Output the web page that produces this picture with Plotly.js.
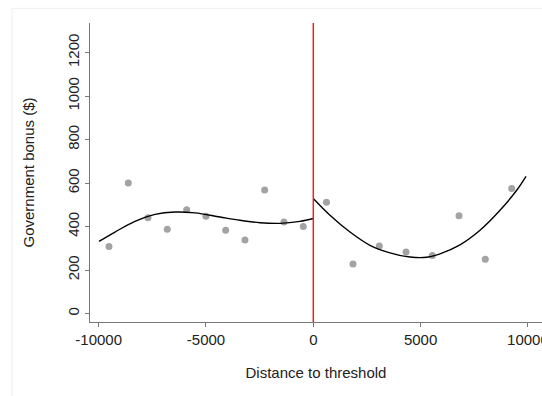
<!DOCTYPE html>
<html>
<head>
<meta charset="utf-8">
<script src="https://cdn.plot.ly/plotly-3.0.1.min.js"></script>
<style>html,body{margin:0;padding:0;background:#fff;}#chart{width:542px;height:396px;}</style>
</head>
<body>
<div id="chart"></div>
<script>
// Binned means
var binX = [-9520, -8621, -7703, -6803, -5900, -5000, -4082, -3183, -2266, -1366, -466,
            615, 1850, 3076, 4320, 5546, 6790, 8015, 9245];
var binY = [309, 600, 441, 388, 478, 447, 383, 338, 568, 421, 401,
            512, 228, 311, 283, 267, 450, 250, 575];

// Fitted curve, left of threshold
var fitLeftX = [-9986, -9240, -8310, -7376, -6444, -5512, -4348, -3416, -2484, -1552, -620, 0];
var fitLeftY = [332, 375, 424, 456, 467, 463, 444, 429, 418, 415, 424, 437];

// Fitted curve, right of threshold
var fitRightX = [0, 778, 1710, 2642, 3574, 4506, 5284, 5904, 6836, 7768, 8700, 9478, 9912];
var fitRightY = [529, 452, 375, 314, 279, 260, 259, 275, 316, 383, 475, 567, 631];

var xTicks = [-10000, -5000, 0, 5000, 10000];
var yTicks = [0, 200, 400, 600, 800, 1000, 1200];

var font = {family: 'Liberation Sans, Arial, sans-serif', size: 15, color: '#222'};

var traces = [
  {x: binX, y: binY, type: 'scatter', mode: 'markers',
   marker: {color: '#a3a3a3', size: 7}, hoverinfo: 'skip'},
  {x: fitLeftX, y: fitLeftY, type: 'scatter', mode: 'lines',
   line: {color: '#000', width: 1.4, shape: 'spline'}, hoverinfo: 'skip'},
  {x: fitRightX, y: fitRightY, type: 'scatter', mode: 'lines',
   line: {color: '#000', width: 1.4, shape: 'spline'}, hoverinfo: 'skip'}
];

var layout = {
  width: 542, height: 396,
  margin: {l: 90, r: 0, t: 23, b: 74},
  paper_bgcolor: '#fff', plot_bgcolor: '#fff',
  showlegend: false,
  font: font,
  xaxis: {
    range: [-10405, 10657],
    tickvals: xTicks, ticktext: xTicks.map(String),
    ticks: 'outside', ticklen: 4, tickcolor: '#777', tickwidth: 1,
    showline: true, linecolor: '#777', linewidth: 1,
    showgrid: false, zeroline: false,
    ticklabeloverflow: 'allow',
    tickfont: font,
    title: {text: 'Distance to threshold', font: font, standoff: 20}
  },
  yaxis: {
    range: [-38.6, 1336],
    tickvals: yTicks, ticktext: yTicks.map(String),
    tickangle: -90,
    ticks: 'outside', ticklen: 4, tickcolor: '#777', tickwidth: 1,
    showline: true, linecolor: '#777', linewidth: 1,
    showgrid: false, zeroline: false,
    tickfont: font,
    title: {text: 'Government bonus ($)', font: font, standoff: 26}
  },
  shapes: [
    {type: 'line', xref: 'x', yref: 'paper', x0: 0, x1: 0, y0: 0, y1: 1,
     line: {color: '#e8242a', width: 1.5}},
    {type: 'rect', xref: 'paper', yref: 'paper', x0: -0.1726, x1: 1.2, y0: -0.4, y1: 1.049,
     line: {color: '#eeeeee', width: 1}, layer: 'below'}
  ]
};

Plotly.newPlot('chart', traces, layout, {displayModeBar: false, staticPlot: true});
</script>
</body>
</html>
